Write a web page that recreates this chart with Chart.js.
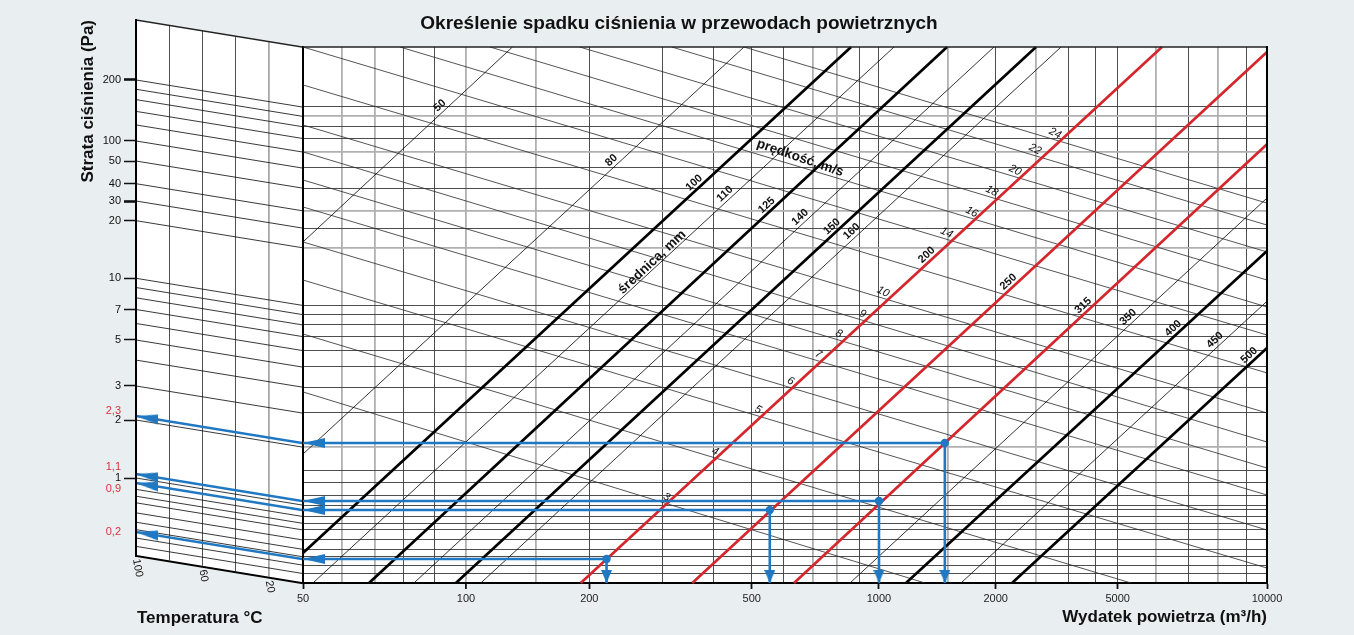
<!DOCTYPE html>
<html lang="pl">
<head>
<meta charset="utf-8">
<title>Określenie spadku ciśnienia w przewodach powietrznych</title>
<script src="https://cdn.jsdelivr.net/npm/chart.js@4.4.0/dist/chart.umd.min.js"></script>
<style>
  html, body { margin: 0; padding: 0; background: #e9eef1; }
  #wrap { position: relative; width: 1354px; height: 635px; overflow: hidden;
          font-family: "Liberation Sans", Arial, sans-serif; }
  canvas { position: absolute; left: 0; top: 0; }
  #title { position: absolute; left: 0; top: 11px; width: 1358px; text-align: center;
           font-weight: bold; font-size: 19px; line-height: 24px; color: #111; }
</style>
</head>
<body>
<div id="wrap">
  <canvas id="temp" width="310" height="635"></canvas>
  <canvas id="main" width="1354" height="635"></canvas>
  <div id="title">Określenie spadku ciśnienia w przewodach powietrznych</div>
</div>
<script>
// ---- Air flow axis (m³/h) ----
const flowTicks = [50, 100, 200, 500, 1000, 2000, 5000, 10000];
const flowGrid = [50, 60, 70, 80, 90, 100, 150, 200, 300, 400, 500, 600, 700, 800, 900, 1000,
                  1500, 2000, 2500, 3000, 4000, 5000, 6000, 7000, 8000, 9000, 10000];
const flowGridLight = [60, 70, 100, 150, 700, 800, 1500, 2500, 6000, 8000];

// ---- Pressure loss axis (Pa) ----
const lossTicks = [200, 100, 50, 40, 30, 20, 10, 7, 5, 3, 2, 1];
const lossGrid = [200, 180, 160, 140, 120, 100, 50, 40, 30, 20, 10, 9, 8, 7, 6, 5, 4, 3, 2,
                  1.55, 1.35, 1.17, 1, 0.9, 0.74, 0.6, 0.49, 0.36, 0.27, 0.215, 0.168, 0.132];
const lossGridLight = [180, 120, 40, 20, 2];

// ---- Temperature correction panel (°C) ----
const tempGrid = [100, 80, 60, 40, 20, 0];
const tempTicks = [100, 60, 20];
const tempCurveLoss = [200, 180, 160, 140, 120, 100, 50, 40, 30, 20, 10, 9, 8, 7, 6, 5, 4, 3, 2,
                       1, 0.9, 0.74, 0.6, 0.49, 0.36, 0.27, 0.215, 0.168, 0.132];

// ---- Duct diameter lines (mm): where each one enters and leaves the grid ----
const diameters    = [50, 80, 100, 110, 125, 140, 150, 160, 200, 250, 315, 350, 400, 450, 500];
const diaFromFlow  = [50, 50, 50, 52.4, 68.1, 83.3, 96.7, 109, 191, 355, 634, 856, 1171, 1620, 2189];
const diaFromLoss  = [22.5, 1.85, 0.24, 0.1, 0.1, 0.1, 0.1, 0.1, 0.1, 0.1, 0.1, 0.1, 0.1, 0.1, 0.1];
const diaToFlow    = [131, 478, 861, 1092, 1489, 1979, 2500, 2879, 6179, 10000, 10000, 10000, 10000, 10000, 10000];
const diaToLoss    = [400, 400, 400, 400, 400, 400, 400, 400, 400, 378, 131, 45.3, 19.2, 10.5, 6.17];
const diaLabelFlow = [91.7, 226, 359, 428, 545, 654, 776, 864, 1322, 2145, 3511, 5261, 6514, 7892, 9120];

// ---- Air velocity lines (m/s) ----
const velocities   = [3, 4, 5, 6, 7, 8, 9, 10, 12, 14, 16, 18, 20, 22, 24];
const velFromFlow  = [50, 50, 50, 50, 50, 50, 50, 50, 50, 50, 78.8, 115, 190, 316, 478];
const velFromLoss  = [3.79, 7.2, 13.55, 22.5, 41.5, 66, 120, 163, 258, 400, 400, 400, 400, 400, 400];
const velToFlow    = [1309, 5330, 10000, 10000, 10000, 10000, 10000, 10000, 10000, 10000, 10000, 10000, 10000, 10000, 10000];
const velToLoss    = [0.1, 0.1, 0.154, 0.487, 1.175, 1.585, 2.32, 3.0, 4.68, 7.12, 9.81, 13.55, 19, 31.5, 43.1];
const velLabelFlow = [307, 404, 519, 623, 720, 807, 916, 1025, null, 1486, 1729, 1953, 2226, 2486, 2783];

// ---- Worked examples (flow, read-off pressure loss) ----
const exampleFlow   = [1470, 1000, 555, 220];
const exampleLoss   = [2.3, 1.1, 0.9, 0.2];
const exampleLabels = ['2,3', '1,1', '0,9', '0,2'];

// ---------------------------------------------------------------------------
const FONT = '"Liberation Sans", Arial, sans-serif';
Chart.defaults.font.family = FONT;
const BLUE = '#1f78c1';
const RED = '#d3262d';
const heavyDiameters = [100, 125, 150, 400, 500];
const redDiameters = [200, 250, 315];
const VEL_LABEL_TILT = 10 * Math.PI / 180;

// Relative position (0..1) of reference values along each printed axis;
// values in between are placed logarithmically.
const flowAxisStops = [[50, 0], [60, .0401], [70, .0747], [80, .1040], [90, .1362], [100, .1691],
  [150, .2414], [200, .2970], [300, .3731], [400, .4256], [500, .4655], [600, .4982], [700, .5294],
  [800, .5543], [900, .5771], [1000, .5975], [1500, .6694], [2000, .7186], [2500, .7604],
  [3000, .7939], [4000, .8223], [5000, .8451], [6000, .8845], [7000, .9188], [8000, .9492],
  [9000, .9790], [10000, 1]];
const lossAxisStops = [[0.1, 0], [0.2, .0448], [0.9, .1362], [1, .1455], [1.1, .1530], [2, .2537],
  [2.3, .2612], [3, .3172], [5, .4030], [7, .4599], [10, .5181], [20, .6256], [30, .6623],
  [40, .6946], [50, .7369], [100, .7743], [200, .8881], [400, 1]];

// Piecewise-logarithmic scale following the printed nomogram rulings
class AnchoredLogScale extends Chart.Scale {
  static id = 'anchoredLog';
  static defaults = {};
  determineDataLimits() {
    const s = this.options.stops;
    this.min = s[0][0];
    this.max = s[s.length - 1][0];
  }
  buildTicks() {
    return (this.options.tickValues || []).map(v => ({ value: v }));
  }
  getLabelForValue(v) { return String(v); }
  _stopDecimal(v) {
    const s = this.options.stops;
    const lv = Math.log10(v);
    let i = 1;
    while (i < s.length - 1 && lv > Math.log10(s[i][0])) i++;
    const l0 = Math.log10(s[i - 1][0]), l1 = Math.log10(s[i][0]);
    return s[i - 1][1] + (lv - l0) / (l1 - l0) * (s[i][1] - s[i - 1][1]);
  }
  getPixelForValue(v) { return this.getPixelForDecimal(this._stopDecimal(v)); }
  getValueForPixel(p) {
    const s = this.options.stops;
    const d = this.getDecimalForPixel(p);
    let i = 1;
    while (i < s.length - 1 && d > s[i][1]) i++;
    const l0 = Math.log10(s[i - 1][0]), l1 = Math.log10(s[i][0]);
    return Math.pow(10, l0 + (d - s[i - 1][1]) / (s[i][1] - s[i - 1][1]) * (l1 - l0));
  }
}
Chart.register(AnchoredLogScale);

// Arrow heads used as point styles (tip at the image centre)
function arrowHead(len, wid, down) {
  const c = document.createElement('canvas');
  const g = c.getContext('2d');
  if (down) {
    c.width = wid; c.height = len * 2;
    g.fillStyle = BLUE; g.beginPath();
    g.moveTo(wid / 2, len); g.lineTo(0, 0); g.lineTo(wid, 0);
  } else {
    c.width = len * 2; c.height = wid;
    g.fillStyle = BLUE; g.beginPath();
    g.moveTo(len, wid / 2); g.lineTo(len * 2, 0); g.lineTo(len * 2, wid);
  }
  g.closePath(); g.fill();
  return c;
}
const arrowLeft = arrowHead(22, 10, false);
const arrowLeftSmall = arrowHead(22, 10, false);
const arrowDown = arrowHead(13, 11, true);

const lossMin = lossAxisStops[0][0];
const flowMin = flowAxisStops[0][0];

// ---------------------------------------------------------------------------
// Main nomogram: flow vs pressure loss
const mainSets = [];
exampleFlow.forEach((q, i) => {
  const v = exampleLoss[i];
  mainSets.push({
    data: [{ x: q, y: v }, { x: flowMin, y: v }],
    borderColor: BLUE, borderWidth: 2.6, order: 0,
    pointStyle: ['circle', arrowLeft], pointRadius: [4.2, 8],
    pointBackgroundColor: BLUE, pointBorderWidth: 0
  });
  mainSets.push({
    data: [{ x: q, y: v }, { x: q, y: lossMin }],
    borderColor: BLUE, borderWidth: 2.6, order: 0,
    pointStyle: [false, arrowDown], pointRadius: [0, 8],
    pointBackgroundColor: BLUE, pointBorderWidth: 0
  });
});
diameters.forEach((d, i) => {
  const heavy = heavyDiameters.includes(d), isRed = redDiameters.includes(d);
  mainSets.push({
    data: [{ x: diaFromFlow[i], y: diaFromLoss[i] }, { x: diaToFlow[i], y: diaToLoss[i] }],
    borderColor: isRed ? RED : '#000', borderWidth: (heavy || isRed) ? 2.7 : 0.8,
    order: (heavy || isRed) ? 1 : 2, pointRadius: 0,
    lineLabel: { text: String(d), q: diaLabelFlow[i], kind: 'dia' }
  });
});
velocities.forEach((v, i) => {
  mainSets.push({
    data: [{ x: velFromFlow[i], y: velFromLoss[i] }, { x: velToFlow[i], y: velToLoss[i] }],
    borderColor: '#2a2a2a', borderWidth: 0.8, order: 3, pointRadius: 0,
    lineLabel: { text: String(v), q: velLabelFlow[i], kind: 'vel' }
  });
});

// Captions placed in chart values (flow, loss)
const captions = [
  { text: 'średnica, mm', q: 283, loss: 16.8, angle: -43 },
  { text: 'prędkość, m/s', q: 654, loss: 112, angle: 19 }
];

const mainPlugin = {
  id: 'mainDecor',
  beforeDraw(chart) {
    const { ctx, chartArea: a } = chart;
    ctx.save();
    ctx.fillStyle = '#fff';
    ctx.fillRect(a.left, a.top, a.right - a.left, a.bottom - a.top);
    ctx.restore();
  },
  afterDatasetsDraw(chart) {
    const { ctx } = chart;
    const xs = chart.scales.x, ys = chart.scales.y;
    ctx.save();
    ctx.fillStyle = '#111';
    ctx.textAlign = 'center';
    ctx.textBaseline = 'middle';
    chart.data.datasets.forEach((ds, i) => {
      const lab = ds.lineLabel;
      if (!lab || lab.q == null) return;
      const pts = chart.getDatasetMeta(i).data;
      const p0 = pts[0], p1 = pts[pts.length - 1];
      const x = xs.getPixelForValue(lab.q);
      const y = p0.y + (x - p0.x) / (p1.x - p0.x) * (p1.y - p0.y);
      const ang = Math.atan2(p1.y - p0.y, p1.x - p0.x);
      ctx.save();
      if (lab.kind === 'dia') {
        ctx.font = 'bold 11px ' + FONT;
        ctx.translate(x, y - 9);
        ctx.rotate(ang);
      } else {
        ctx.font = 'italic 11px ' + FONT;
        ctx.translate(x, y - 6.5);
        ctx.rotate(ang + VEL_LABEL_TILT);
      }
      ctx.fillText(lab.text, 0, 0);
      ctx.restore();
    });
    ctx.font = 'bold 13.5px ' + FONT;
    captions.forEach(c => {
      ctx.save();
      ctx.translate(xs.getPixelForValue(c.q), ys.getPixelForValue(c.loss));
      ctx.rotate(c.angle * Math.PI / 180);
      ctx.fillText(c.text, 0, 0);
      ctx.restore();
    });
    ctx.restore();
  },
  afterDraw(chart) {
    const { ctx, chartArea: a } = chart;
    ctx.save();
    ctx.strokeStyle = '#222';
    ctx.lineWidth = 1.6;
    ctx.beginPath(); ctx.moveTo(a.left, a.top); ctx.lineTo(a.right, a.top); ctx.stroke();
    ctx.strokeStyle = '#000';
    ctx.lineWidth = 2;
    ctx.beginPath(); ctx.moveTo(a.right, a.top - 1); ctx.lineTo(a.right, a.bottom); ctx.stroke();
    ctx.restore();
  }
};

const isLight = (list, c) => !!(c.tick && list.includes(c.tick.value));

const mainChart = new Chart(document.getElementById('main'), {
  type: 'line',
  data: { datasets: mainSets },
  options: {
    responsive: false, animation: false, events: [],
    layout: { padding: { left: 303, right: 87, top: 47, bottom: 0 } },
    plugins: { legend: { display: false }, tooltip: { enabled: false }, title: { display: false } },
    elements: { line: { tension: 0, borderCapStyle: 'butt' } },
    scales: {
      x: {
        type: 'anchoredLog', position: 'bottom',
        stops: flowAxisStops, tickValues: flowGrid,
        afterFit: s => { s.height = 52; },
        ticks: {
          autoSkip: false, maxRotation: 0, minRotation: 0, padding: 3,
          color: '#222', font: { size: 11 },
          callback: v => flowTicks.includes(v) ? String(v) : ''
        },
        grid: {
          color: c => isLight(flowGridLight, c) ? '#b0b0b0' : '#3a3a3a',
          lineWidth: c => isLight(flowGridLight, c) ? 1.8 : 0.9,
          drawTicks: true, tickLength: 6, tickWidth: 1.8,
          tickColor: c => isLight(flowTicks, c) ? '#111' : 'rgba(0,0,0,0)'
        },
        border: { display: true, color: '#000', width: 2 },
        title: {
          display: true, text: 'Wydatek powietrza (m³/h)', align: 'end', color: '#111',
          font: { size: 17, weight: 'bold' }, padding: { top: 0, bottom: 7 }
        }
      },
      y: {
        type: 'anchoredLog', position: 'left',
        stops: lossAxisStops, tickValues: lossGrid,
        afterFit: s => { s.width = 0; },
        ticks: { display: false, autoSkip: false },
        grid: {
          color: c => isLight(lossGridLight, c) ? '#b0b0b0' : '#3a3a3a',
          lineWidth: c => isLight(lossGridLight, c) ? 1.8 : 0.9,
          drawTicks: false
        },
        border: { display: true, color: '#000', width: 2 }
      }
    }
  },
  plugins: [mainPlugin]
});

// ---------------------------------------------------------------------------
// Temperature correction panel, drawn as a sheared strip left of the grid
const tempSets = [];
exampleLoss.forEach(v => {
  tempSets.push({
    data: [{ x: 0, y: v }, { x: 100, y: v }],
    borderColor: BLUE, borderWidth: 2.6, order: 0,
    pointStyle: [false, arrowLeftSmall], pointRadius: [0, 8],
    pointBackgroundColor: BLUE, pointBorderWidth: 0
  });
});
tempCurveLoss.forEach(v => {
  tempSets.push({
    data: [{ x: 0, y: v }, { x: 100, y: v }],
    borderColor: '#111', borderWidth: 0.8, order: 1, pointRadius: 0
  });
});

const exampleLabelShift = [-5, -7, 6, 0];

function shearOf(chart) {
  const a = chart.chartArea;
  return (mainChart.chartArea.top - a.top) / (a.right - a.left);
}

const shearPlugin = {
  id: 'shear',
  beforeDraw(chart) {
    const { ctx, chartArea: a } = chart;
    const k = shearOf(chart);
    ctx.save();
    ctx.transform(1, k, 0, 1, 0, -k * a.left);
  },
  afterDatasetsDraw(chart) {
    const { ctx, chartArea: a } = chart;
    ctx.strokeStyle = '#222';
    ctx.lineWidth = 1.6;
    ctx.beginPath(); ctx.moveTo(a.left, a.top); ctx.lineTo(a.right, a.top); ctx.stroke();
    // white panel behind everything drawn so far
    ctx.globalCompositeOperation = 'destination-over';
    ctx.fillStyle = '#fff';
    ctx.fillRect(a.left, a.top, a.right - a.left, a.bottom - a.top);
    ctx.globalCompositeOperation = 'source-over';
    ctx.restore();
  },
  afterDraw(chart) {
    const { ctx, chartArea: a } = chart;
    const xs = chart.scales.x, ys = chart.scales.y;
    const k = shearOf(chart);
    ctx.save();
    ctx.fillStyle = '#111';
    ctx.font = '11px ' + FONT;
    ctx.textAlign = 'left';
    ctx.textBaseline = 'middle';
    tempTicks.forEach(t => {
      const x = xs.getPixelForValue(t);
      const y = a.bottom + k * (x - a.left);
      ctx.save();
      ctx.translate(x, y + 3);
      ctx.rotate(80 * Math.PI / 180);
      ctx.fillText(String(t), 0, 0);
      ctx.restore();
    });
    ctx.fillStyle = '#e0303a';
    ctx.textAlign = 'right';
    exampleLoss.forEach((v, i) => {
      ctx.fillText(exampleLabels[i], a.left - 15, ys.getPixelForValue(v) + exampleLabelShift[i]);
    });
    ctx.fillStyle = '#111';
    ctx.textAlign = 'left';
    ctx.font = 'bold 17px ' + FONT;
    ctx.fillText('Temperatura °C', a.left + 1, 618);
    ctx.restore();
  }
};

const tempChart = new Chart(document.getElementById('temp'), {
  type: 'line',
  data: { datasets: tempSets },
  options: {
    responsive: false, animation: false, events: [],
    layout: { padding: { left: 0, right: 7, top: 20, bottom: 0 } },
    plugins: { legend: { display: false }, tooltip: { enabled: false }, title: { display: false } },
    elements: { line: { tension: 0, borderCapStyle: 'butt' } },
    scales: {
      x: {
        type: 'linear', min: 0, max: 100, reverse: true, position: 'bottom',
        afterFit: s => { s.height = 79; },
        afterBuildTicks: s => { s.ticks = tempGrid.map(v => ({ value: v })); },
        ticks: { display: false },
        grid: {
          z: -1, drawTicks: false,
          color: c => !c.tick ? 'rgba(0,0,0,0)' : (c.tick.value === 20 ? '#a8a8a8'
                 : (c.tick.value === 0 || c.tick.value === 100) ? 'rgba(0,0,0,0)' : '#444'),
          lineWidth: c => (c.tick && c.tick.value === 20) ? 1.8 : 0.9
        },
        border: { display: true, color: '#000', width: 2 }
      },
      y: {
        type: 'anchoredLog', position: 'left',
        stops: lossAxisStops, tickValues: lossTicks,
        afterFit: s => { s.width = 136; },
        ticks: { z: 1, autoSkip: false, padding: 3, color: '#111', font: { size: 11 },
                 callback: v => String(v) },
        grid: {
          z: 1, drawOnChartArea: false, drawTicks: true, tickLength: 12, tickColor: '#111',
          tickWidth: c => (c.tick && (c.tick.value === 200 || c.tick.value === 30)) ? 2.6 : 1.5
        },
        border: { display: true, color: '#000', width: 2, z: 1 },
        title: {
          display: true, text: 'Strata ciśnienia (Pa)', align: 'end', color: '#111',
          font: { size: 17, weight: 'bold' }, padding: { top: 78, bottom: 0 }
        }
      }
    }
  },
  plugins: [shearPlugin]
});
</script>
</body>
</html>
